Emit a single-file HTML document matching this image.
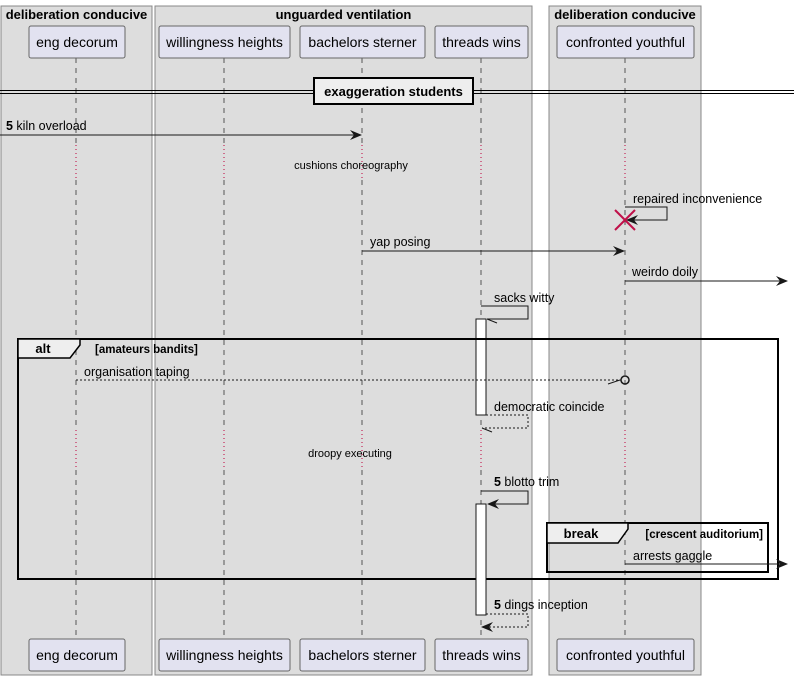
<!DOCTYPE html>
<html><head><meta charset="utf-8"><style>
html,body{margin:0;padding:0;background:#fff}
svg text{font-family:"Liberation Sans",sans-serif}
</style></head><body>
<svg width="794" height="680" viewBox="0 0 794 680" xmlns="http://www.w3.org/2000/svg">
<defs>
<marker id="ah" viewBox="0 0 12 10" refX="11" refY="5" markerWidth="12" markerHeight="10" markerUnits="userSpaceOnUse" orient="auto"><path d="M0,0 L12,5 L0,10 L4,5 Z" fill="#181818"/></marker>
</defs>
<g>
<rect x="1" y="6" width="151" height="669" fill="#dddddd" stroke="#888" stroke-width="1"/>
<text x="76.5" y="19" font-size="13" font-weight="bold" text-anchor="middle">deliberation conducive</text></g>
<g>
<rect x="155" y="6" width="377" height="669" fill="#dddddd" stroke="#888" stroke-width="1"/>
<text x="343.5" y="19" font-size="13" font-weight="bold" text-anchor="middle">unguarded ventilation</text></g>
<g>
<rect x="549" y="6" width="152" height="669" fill="#dddddd" stroke="#888" stroke-width="1"/>
<text x="625" y="19" font-size="13" font-weight="bold" text-anchor="middle">deliberation conducive</text></g>
<g stroke="#555" stroke-width="1" stroke-dasharray="5,5">
<line x1="76" y1="58" x2="76" y2="145"/><line x1="76" y1="180" x2="76" y2="430"/><line x1="76" y1="470" x2="76" y2="639"/>
<line x1="224" y1="58" x2="224" y2="145"/><line x1="224" y1="180" x2="224" y2="430"/><line x1="224" y1="470" x2="224" y2="639"/>
<line x1="362" y1="58" x2="362" y2="145"/><line x1="362" y1="180" x2="362" y2="430"/><line x1="362" y1="470" x2="362" y2="639"/>
<line x1="481" y1="58" x2="481" y2="145"/><line x1="481" y1="180" x2="481" y2="430"/><line x1="481" y1="470" x2="481" y2="639"/>
<line x1="625" y1="58" x2="625" y2="145"/><line x1="625" y1="180" x2="625" y2="430"/><line x1="625" y1="470" x2="625" y2="639"/>
</g>
<g stroke="#c0003a" stroke-width="1" stroke-dasharray="1,3">
<line x1="76" y1="145" x2="76" y2="180"/><line x1="224" y1="145" x2="224" y2="180"/><line x1="362" y1="145" x2="362" y2="180"/><line x1="481" y1="145" x2="481" y2="180"/><line x1="625" y1="145" x2="625" y2="180"/>
<line x1="76" y1="430" x2="76" y2="470"/><line x1="224" y1="430" x2="224" y2="470"/><line x1="362" y1="430" x2="362" y2="470"/><line x1="481" y1="430" x2="481" y2="470"/><line x1="625" y1="430" x2="625" y2="470"/>
</g>
<g font-size="14" text-anchor="middle" fill="#000">
<g><rect x="29" y="26" width="96" height="32" rx="2" fill="#e2e2f0" stroke="#666"/><text x="77" y="47">eng decorum</text></g>
<g><rect x="159" y="26" width="131" height="32" rx="2" fill="#e2e2f0" stroke="#666"/><text x="224.5" y="47">willingness heights</text></g>
<g><rect x="300" y="26" width="125" height="32" rx="2" fill="#e2e2f0" stroke="#666"/><text x="362.5" y="47">bachelors sterner</text></g>
<g><rect x="435" y="26" width="93" height="32" rx="2" fill="#e2e2f0" stroke="#666"/><text x="481.5" y="47">threads wins</text></g>
<g><rect x="557" y="26" width="137" height="32" rx="2" fill="#e2e2f0" stroke="#666"/><text x="625.5" y="47">confronted youthful</text></g>
<g><rect x="29" y="639" width="96" height="32" rx="2" fill="#e2e2f0" stroke="#666"/><text x="77" y="660">eng decorum</text></g>
<g><rect x="159" y="639" width="131" height="32" rx="2" fill="#e2e2f0" stroke="#666"/><text x="224.5" y="660">willingness heights</text></g>
<g><rect x="300" y="639" width="125" height="32" rx="2" fill="#e2e2f0" stroke="#666"/><text x="362.5" y="660">bachelors sterner</text></g>
<g><rect x="435" y="639" width="93" height="32" rx="2" fill="#e2e2f0" stroke="#666"/><text x="481.5" y="660">threads wins</text></g>
<g><rect x="557" y="639" width="137" height="32" rx="2" fill="#e2e2f0" stroke="#666"/><text x="625.5" y="660">confronted youthful</text></g>
</g>
<g>
<line x1="0" y1="90.5" x2="794" y2="90.5" stroke="#000"/><line x1="0" y1="93.5" x2="794" y2="93.5" stroke="#000"/>
<rect x="314" y="78" width="159" height="26" fill="#eeeeee" stroke="#000" stroke-width="2"/>
<text x="393.5" y="96" font-size="13" font-weight="bold" text-anchor="middle">exaggeration students</text></g>
<g font-size="12.5" fill="#000">
<g><line x1="0" y1="135" x2="361" y2="135" stroke="#181818" marker-end="url(#ah)"/><text x="6" y="130"><tspan font-weight="bold">5</tspan> kiln overload</text></g>
<text x="351" y="169" font-size="11" text-anchor="middle">cushions choreography</text>
<g><polyline points="625,207 667,207 667,220 627,220" fill="none" stroke="#181818" marker-end="url(#ah)"/><text x="633" y="203">repaired inconvenience</text>
<g stroke="#c0104a" stroke-width="2"><line x1="615" y1="210" x2="635" y2="230"/><line x1="635" y1="210" x2="615" y2="230"/></g></g>
<g><line x1="362" y1="251" x2="624" y2="251" stroke="#181818" marker-end="url(#ah)"/><text x="370" y="246">yap posing</text></g>
<g><line x1="625" y1="281" x2="787" y2="281" stroke="#181818" marker-end="url(#ah)"/><text x="632" y="276">weirdo doily</text></g>
<g><polyline points="481,306 528,306 528,319 487,319" fill="none" stroke="#181818"/><line x1="487" y1="319" x2="497" y2="323" stroke="#181818"/><text x="494" y="302">sacks witty</text></g>
<rect x="476" y="319" width="10" height="96" fill="#fff" stroke="#181818"/>
<g><rect x="18" y="339" width="760" height="240" fill="none" stroke="#000" stroke-width="2"/>
<path d="M18,339 L80,339 L80,345 L70,358 L18,358 Z" fill="#eeeeee" stroke="#000" stroke-width="1.5"/>
<text x="43" y="353" font-size="13" font-weight="bold" text-anchor="middle">alt</text>
<text x="95" y="353" font-size="11.5" font-weight="bold">[amateurs bandits]</text></g>
<g><line x1="76" y1="380" x2="621" y2="380" stroke="#181818" stroke-dasharray="2,2"/><line x1="608" y1="384" x2="620" y2="380" stroke="#181818"/><circle cx="625" cy="380" r="4" fill="none" stroke="#181818" stroke-width="1.5"/><text x="84" y="376">organisation taping</text></g>
<g><polyline points="486,415 528,415 528,428 482,428" fill="none" stroke="#181818" stroke-dasharray="2,2"/><line x1="482" y1="428" x2="492" y2="432" stroke="#181818"/><text x="494" y="411">democratic coincide</text></g>
<text x="350" y="457" font-size="11" text-anchor="middle">droopy executing</text>
<g><polyline points="481,491 528,491 528,504 488,504" fill="none" stroke="#181818" marker-end="url(#ah)"/><text x="494" y="486"><tspan font-weight="bold">5</tspan> blotto trim</text></g>
<rect x="476" y="504" width="10" height="111" fill="#fff" stroke="#181818"/>
<g><rect x="547" y="523" width="221" height="49" fill="none" stroke="#000" stroke-width="2"/>
<path d="M547,523 L628,523 L628,529 L618,543 L547,543 Z" fill="#eeeeee" stroke="#000" stroke-width="1.5"/>
<text x="581" y="538" font-size="13" font-weight="bold" text-anchor="middle">break</text>
<text x="763" y="538" font-size="11.5" font-weight="bold" text-anchor="end">[crescent auditorium]</text></g>
<g><line x1="625" y1="564" x2="787" y2="564" stroke="#181818" marker-end="url(#ah)"/><text x="633" y="560">arrests gaggle</text></g>
<g><polyline points="486,614 528,614 528,627 482,627" fill="none" stroke="#181818" stroke-dasharray="2,2" marker-end="url(#ah)"/><text x="494" y="609"><tspan font-weight="bold">5</tspan> dings inception</text></g>
</g>
</svg>
</body></html>
